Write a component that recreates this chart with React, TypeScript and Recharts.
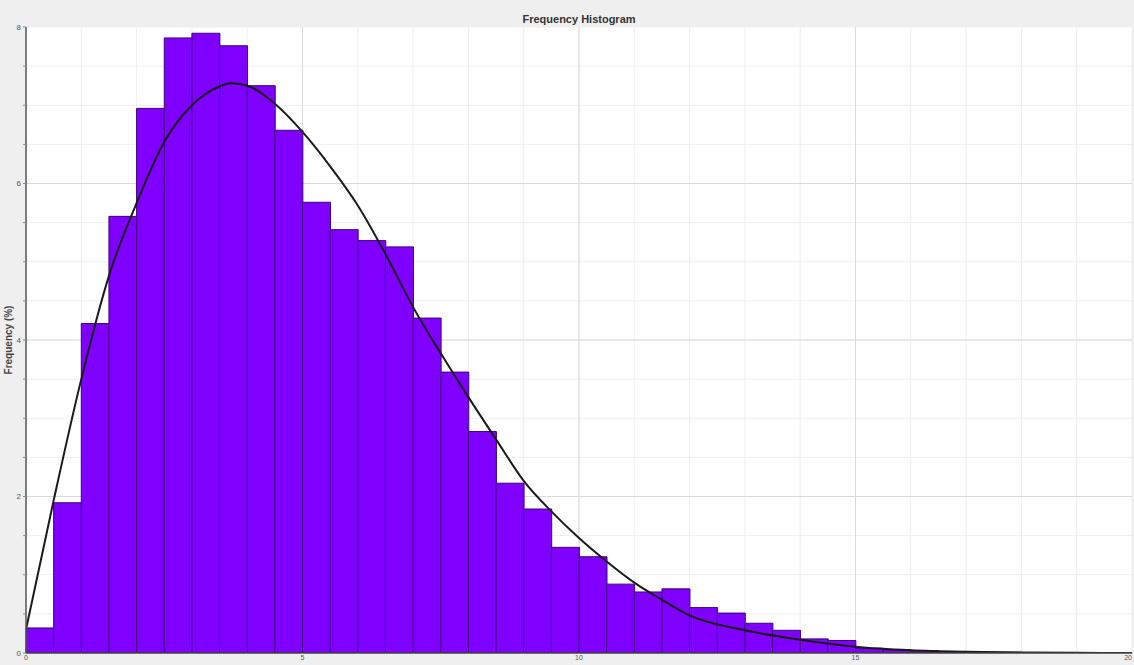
import React from "react";
import {
  ComposedChart,
  Bar,
  Line,
  XAxis,
  YAxis,
  CartesianGrid,
} from "recharts";

// Histogram bins (width 0.5) and their relative frequency in percent
const binLabels: string[] = Array.from({ length: 40 }, (_, i) => `${i * 0.5}–${i * 0.5 + 0.5}`);
const binFrequency: number[] = [
  0.32, 1.92, 4.21, 5.58, 6.96, 7.86, 7.92, 7.76, 7.25, 6.68,
  5.76, 5.41, 5.27, 5.19, 4.28, 3.59, 2.83, 2.17, 1.84, 1.35,
  1.23, 0.88, 0.78, 0.82, 0.58, 0.51, 0.38, 0.29, 0.18, 0.16,
  0.06, 0.04, 0.03, 0.02, 0.01, 0.01, 0, 0, 0, 0,
];

// Fitted density curve (percent)
const curveX: number[] = [
  0, 0.5, 1, 1.5, 2, 2.5, 3, 3.5, 3.7, 4, 4.5, 5, 5.5, 6, 6.5, 7, 7.5, 8,
  8.5, 9, 9.5, 10, 10.5, 11, 11.5, 12, 13, 14, 15, 16, 17, 18, 19, 20,
];
const curveY: number[] = [
  0.3, 1.95, 3.5, 4.82, 5.75, 6.53, 7.0, 7.24, 7.28, 7.25, 7.02, 6.66, 6.22,
  5.72, 5.1, 4.42, 3.83, 3.27, 2.73, 2.2, 1.81, 1.47, 1.17, 0.9, 0.68, 0.48,
  0.29, 0.17, 0.08, 0.035, 0.015, 0.005, 0.002, 0.001,
];

const xTicks: number[] = Array.from({ length: 21 }, (_, i) => i);
const xLabelled: number[] = [0, 5, 10, 15, 20];
const yTicks: number[] = Array.from({ length: 17 }, (_, i) => i * 0.5);
const yLabelled: number[] = [0, 2, 4, 6, 8];

const barData = binLabels.map((bin, i) => ({ bin, freq: binFrequency[i] }));
const curveData = curveX.map((x, i) => ({ x, y: curveY[i] }));

const W = 1134;
const H = 665;
const FONT = "Liberation Sans, Arial, sans-serif";

const tickStyle = { fontSize: 8, fill: "#555", fontFamily: FONT };

const XTick = (props: any) => {
  const { x, y, payload } = props;
  if (!xLabelled.includes(payload.value)) return <g />;
  // keep the last label inside the frame
  const anchor = payload.value === xLabelled[xLabelled.length - 1] ? "end" : "middle";
  return (
    <text x={x} y={y} dy={6} textAnchor={anchor} fontSize={7} fill="#555" fontFamily={FONT}>
      {payload.value}
    </text>
  );
};

const YLabel = () => (
  <text
    x={8}
    y={340}
    transform="rotate(-90 8 340)"
    textAnchor="middle"
    dominantBaseline="central"
    fontSize={10}
    fontWeight="bold"
    fill="#444"
    fontFamily={FONT}
  >
    Frequency (%)
  </text>
);

export default function App() {
  return (
    <div
      style={{
        position: "absolute",
        left: 0,
        top: 0,
        width: W,
        height: H,
        background: "#efefef",
        overflow: "hidden",
      }}
    >
      <div
        style={{
          position: "absolute",
          left: 26,
          width: 1106,
          top: 12,
          textAlign: "center",
          fontFamily: FONT,
          fontWeight: "bold",
          fontSize: 11,
          color: "#333",
          lineHeight: "14px",
        }}
      >
        Frequency Histogram
      </div>
      <ComposedChart
        width={W}
        height={H}
        data={barData}
        margin={{ top: 27, right: 2, bottom: 0, left: 0 }}
        barCategoryGap={0}
        barGap={0}
        style={{ position: "absolute", left: 0, top: 0 }}
      >
        {/* minor grid */}
        <CartesianGrid
          xAxisId="num"
          yAxisId="left"
          fill="#ffffff"
          stroke="#eeeeee"
          horizontalValues={yTicks}
          verticalValues={xTicks}
        />
        {/* major grid */}
        <CartesianGrid
          xAxisId="num"
          yAxisId="left"
          stroke="#dadada"
          horizontalValues={[2, 4, 6]}
          verticalValues={[5, 10, 15]}
        />
        <XAxis
          xAxisId="bins"
          type="category"
          dataKey="bin"
          orientation="top"
          height={0}
          hide
        />
        <XAxis
          xAxisId="top"
          orientation="top"
          type="number"
          domain={[0, 20]}
          height={0}
          tick={false}
          tickLine={false}
          axisLine={{ stroke: "#7a7a7a", strokeWidth: 1.5 }}
        />
        <XAxis
          xAxisId="num"
          type="number"
          dataKey="x"
          domain={[0, 20]}
          ticks={xTicks}
          interval={0}
          height={12}
          tickSize={1}
          tickMargin={0}
          tick={<XTick />}
          axisLine={{ stroke: "#444", strokeWidth: 1.5 }}
          tickLine={{ stroke: "#888" }}
          allowDataOverflow
        />
        <YAxis
          yAxisId="left"
          type="number"
          domain={[0, 8]}
          ticks={yTicks}
          interval={0}
          tickFormatter={(v: number) => (yLabelled.includes(v) ? String(v) : "")}
          width={26}
          tickSize={3}
          tickMargin={2}
          tick={tickStyle}
          axisLine={{ stroke: "#555", strokeWidth: 1.5 }}
          tickLine={{ stroke: "#888" }}
          label={<YLabel />}
          allowDataOverflow
        />
        <YAxis
          yAxisId="right"
          orientation="right"
          domain={[0, 8]}
          width={0}
          tick={false}
          tickLine={false}
          axisLine={{ stroke: "#999", strokeWidth: 1 }}
        />
        <Bar
          xAxisId="bins"
          yAxisId="left"
          dataKey="freq"
          fill="#7f00ff"
          stroke="#3c0078"
          strokeWidth={1}
          isAnimationActive={false}
        />
        <Line
          xAxisId="num"
          yAxisId="left"
          data={curveData}
          dataKey="y"
          type="monotone"
          stroke="#1a1a1a"
          strokeWidth={2}
          dot={false}
          activeDot={false}
          isAnimationActive={false}
        />
      </ComposedChart>
    </div>
  );
}
